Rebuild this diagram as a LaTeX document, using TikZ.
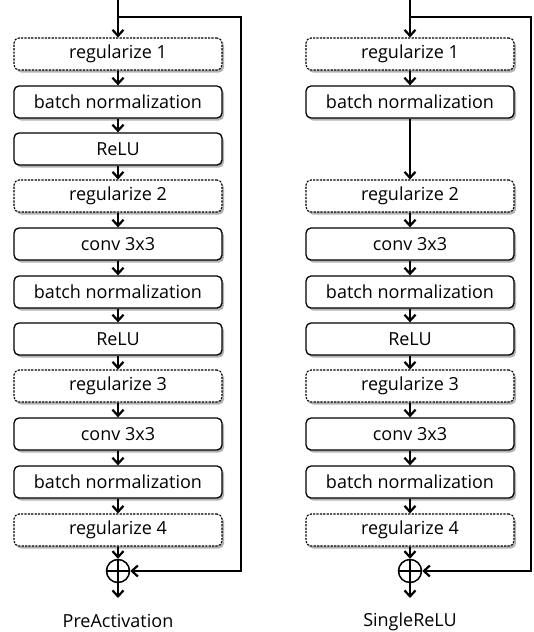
\documentclass[tikz,border=0pt]{standalone}
\usepackage{fontspec}
\setmainfont{Open Sans}
\usetikzlibrary{arrows.meta,shadows,calc}
\tikzset{
    layerbox/.style={draw=black, fill=white, rounded corners=5pt, line width=1.3pt,
        minimum width=208pt, minimum height=32pt, font=\fontsize{18}{20}\selectfont,
        drop shadow={shadow xshift=2pt, shadow yshift=-2.5pt, fill=black!60, opacity=0.5}},
    regbox/.style={layerbox, line width=1.1pt, dash pattern=on 2.2pt off 1.2pt},
    flow/.style={-{Straight Barb[length=6pt,width=11pt,line width=2.2pt]}, line width=2.6pt},
    addop/.style={circle, draw=black, fill=white, line width=1.5pt, minimum size=23pt, inner sep=0pt,
        path picture={\draw[line width=1.5pt] (path picture bounding box.north) -- (path picture bounding box.south)
            (path picture bounding box.west) -- (path picture bounding box.east);}}
}
\begin{document}
\begin{tikzpicture}[x=1pt, y=-1pt]
    \useasboundingbox (0,0) rectangle (533,632);

    % PreActivation column
    \foreach \n/\y/\st/\txt in {
        1/54/regbox/regularize 1,
        2/102/layerbox/batch normalization,
        3/149/layerbox/ReLU,
        4/196/regbox/regularize 2,
        5/244/layerbox/conv 3x3,
        6/292/layerbox/batch normalization,
        7/339/layerbox/ReLU,
        8/386/regbox/regularize 3,
        9/434/layerbox/conv 3x3,
        10/482/layerbox/batch normalization,
        11/530/regbox/regularize 4} {
        \node[\st] (L\n) at (118,\y) {\txt};
    }
    \node[addop] (addL) at (118,571) {};
    \coordinate (inL) at (118,0);
    \coordinate (splitL) at (118,17);
    \coordinate (outL) at (118,598);

    \draw[flow] (inL) -- (L1);
    \foreach \a/\b in {1/2,2/3,3/4,4/5,5/6,6/7,7/8,8/9,9/10,10/11}
        \draw[flow] (L\a) -- (L\b);
    \draw[flow] (L11) -- (addL);
    \draw[flow] (splitL) -- ++(123,0) |- (addL);
    \draw[flow] (addL) -- (outL);
    \node[font=\fontsize{18}{20}\selectfont] (nameL) at (118,621) {PreActivation};

    % SingleReLU column
    \foreach \n/\y/\st/\txt in {
        1/54/regbox/regularize 1,
        2/102/layerbox/batch normalization,
        4/196/regbox/regularize 2,
        5/244/layerbox/conv 3x3,
        6/292/layerbox/batch normalization,
        7/339/layerbox/ReLU,
        8/386/regbox/regularize 3,
        9/434/layerbox/conv 3x3,
        10/482/layerbox/batch normalization,
        11/530/regbox/regularize 4} {
        \node[\st] (R\n) at (410,\y) {\txt};
    }
    \node[addop] (addR) at (410,571) {};
    \coordinate (inR) at (410,0);
    \coordinate (splitR) at (410,17);
    \coordinate (outR) at (410,598);

    \draw[flow] (inR) -- (R1);
    \foreach \a/\b in {1/2,2/4,4/5,5/6,6/7,7/8,8/9,9/10,10/11}
        \draw[flow] (R\a) -- (R\b);
    \draw[flow] (R11) -- (addR);
    \draw[flow] (splitR) -- ++(121,0) |- (addR);
    \draw[flow] (addR) -- (outR);
    \node[font=\fontsize{18}{20}\selectfont] (nameR) at (410,622) {SingleReLU};
\end{tikzpicture}
\end{document}
